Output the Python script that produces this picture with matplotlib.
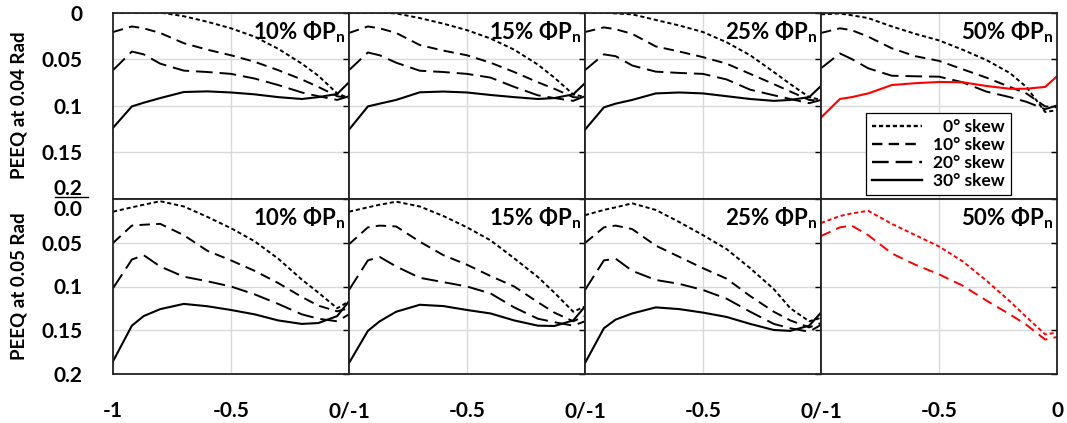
import matplotlib
matplotlib.use('Agg')
import matplotlib.pyplot as plt
from matplotlib.lines import Line2D

plt.rcParams['font.family'] = ['Lato', 'DejaVu Sans']
plt.rcParams['font.weight'] = 'bold'
plt.rcParams['lines.scale_dashes'] = False
plt.rcParams['mathtext.default'] = 'regular'

# ---------------- data ----------------
X = [-1, -0.92, -0.87, -0.8, -0.7, -0.6, -0.5, -0.4, -0.3, -0.2, -0.13, -0.05, 0]

skew_labels = ['\u20070° skew', '10° skew', '20° skew', '30° skew']
load_labels = ['10%', '15%', '25%', '50%']
row_labels = ['PEEQ at 0.04 Rad', 'PEEQ at 0.05 Rad']
x_ticks_first = ['-1', '-0.5', '0/-1']
x_ticks_mid = ['-0.5', '0/-1']
x_ticks_last = ['-0.5', '0']
y_ticks = [0, 0.05, 0.1, 0.15, 0.2]
y_tick_labels_top = ['0', '0.05', '0.1', '0.15', '0.2']
y_tick_labels_bot = ['0.0', '0.05', '0.1', '0.15', '0.2']

# PEEQ at 0.04 rad
r04_10_s0 = [0.000, 0.000, 0.000, 0.000, 0.004, 0.010, 0.017, 0.026, 0.039, 0.055, 0.068, 0.087, 0.092]
r04_10_s10 = [0.021, 0.015, 0.017, 0.022, 0.033, 0.040, 0.046, 0.053, 0.062, 0.072, 0.080, 0.090, 0.092]
r04_10_s20 = [0.062, 0.042, 0.045, 0.055, 0.0625, 0.064, 0.066, 0.071, 0.078, 0.086, 0.090, 0.094, 0.090]
r04_10_s30 = [0.124, 0.101, 0.097, 0.092, 0.0855, 0.0848, 0.086, 0.088, 0.091, 0.093, 0.091, 0.0876, 0.075]

r04_15_s0 = [0.000, 0.000, 0.000, 0.001, 0.006, 0.012, 0.019, 0.028, 0.040, 0.056, 0.070, 0.088, 0.091]
r04_15_s10 = [0.022, 0.015, 0.017, 0.022, 0.035, 0.041, 0.046, 0.054, 0.064, 0.075, 0.082, 0.091, 0.092]
r04_15_s20 = [0.062, 0.043, 0.046, 0.054, 0.0626, 0.064, 0.066, 0.070, 0.080, 0.089, 0.092, 0.095, 0.090]
r04_15_s30 = [0.126, 0.101, 0.098, 0.094, 0.0858, 0.085, 0.086, 0.0887, 0.091, 0.093, 0.092, 0.088, 0.076]

r04_25_s0 = [0.000, 0.000, 0.001, 0.002, 0.008, 0.014, 0.021, 0.032, 0.046, 0.064, 0.077, 0.091, 0.094]
r04_25_s10 = [0.021, 0.016, 0.018, 0.023, 0.0365, 0.042, 0.048, 0.055, 0.066, 0.077, 0.085, 0.094, 0.095]
r04_25_s20 = [0.062, 0.045, 0.047, 0.057, 0.0636, 0.065, 0.066, 0.072, 0.083, 0.089, 0.093, 0.0975, 0.094]
r04_25_s30 = [0.126, 0.102, 0.098, 0.094, 0.087, 0.086, 0.087, 0.090, 0.093, 0.095, 0.094, 0.091, 0.079]

r04_50_s0 = [0.002, 0.001, 0.003, 0.006, 0.015, 0.023, 0.030, 0.040, 0.051, 0.065, 0.080, 0.107, 0.105]
r04_50_s10 = [0.022, 0.017, 0.019, 0.026, 0.0385, 0.047, 0.052, 0.061, 0.070, 0.080, 0.087, 0.101, 0.102]
r04_50_s20 = [0.060, 0.044, 0.050, 0.060, 0.068, 0.0686, 0.069, 0.075, 0.085, 0.091, 0.096, 0.104, 0.100]
r04_50_s30 = [0.113, 0.093, 0.091, 0.087, 0.078, 0.076, 0.0747, 0.075, 0.079, 0.082, 0.082, 0.080, 0.0686]

# PEEQ at 0.05 rad
r05_10_s0 = [0.014, 0.009, 0.006, 0.002, 0.008, 0.020, 0.033, 0.048, 0.068, 0.092, 0.107, 0.125, 0.117]
r05_10_s10 = [0.050, 0.030, 0.029, 0.028, 0.041, 0.059, 0.070, 0.082, 0.096, 0.112, 0.122, 0.1285, 0.125]
r05_10_s20 = [0.102, 0.069, 0.064, 0.077, 0.0887, 0.094, 0.100, 0.109, 0.120, 0.132, 0.137, 0.140, 0.132]
r05_10_s30 = [0.186, 0.145, 0.134, 0.126, 0.120, 0.1227, 0.127, 0.132, 0.139, 0.143, 0.142, 0.134, 0.117]

r05_15_s0 = [0.014, 0.009, 0.006, 0.0025, 0.008, 0.019, 0.032, 0.047, 0.0676, 0.089, 0.107, 0.129, 0.123]
r05_15_s10 = [0.0515, 0.032, 0.030, 0.031, 0.0485, 0.064, 0.075, 0.088, 0.100, 0.118, 0.130, 0.140, 0.134]
r05_15_s20 = [0.104, 0.070, 0.066, 0.077, 0.090, 0.095, 0.100, 0.108, 0.124, 0.137, 0.141, 0.145, 0.140]
r05_15_s30 = [0.188, 0.151, 0.140, 0.129, 0.121, 0.1225, 0.127, 0.131, 0.139, 0.145, 0.1454, 0.139, 0.123]

r05_25_s0 = [0.018, 0.012, 0.009, 0.0044, 0.012, 0.026, 0.041, 0.057, 0.079, 0.103, 0.125, 0.140, 0.136]
r05_25_s10 = [0.050, 0.032, 0.030, 0.034, 0.053, 0.066, 0.079, 0.091, 0.111, 0.129, 0.139, 0.147, 0.142]
r05_25_s20 = [0.104, 0.070, 0.068, 0.082, 0.0925, 0.097, 0.104, 0.114, 0.129, 0.143, 0.148, 0.152, 0.144]
r05_25_s30 = [0.188, 0.148, 0.138, 0.131, 0.124, 0.126, 0.130, 0.135, 0.143, 0.150, 0.151, 0.145, 0.130]

r05_50_s0 = [0.027, 0.019, 0.016, 0.013, 0.028, 0.041, 0.054, 0.071, 0.093, 0.117, 0.135, 0.155, 0.153]
r05_50_s10 = [0.042, 0.032, 0.030, 0.041, 0.062, 0.075, 0.086, 0.099, 0.116, 0.132, 0.144, 0.161, 0.158]

panels = [
    [[r04_10_s0, r04_10_s10, r04_10_s20, r04_10_s30],
     [r04_15_s0, r04_15_s10, r04_15_s20, r04_15_s30],
     [r04_25_s0, r04_25_s10, r04_25_s20, r04_25_s30],
     [r04_50_s0, r04_50_s10, r04_50_s20, r04_50_s30]],
    [[r05_10_s0, r05_10_s10, r05_10_s20, r05_10_s30],
     [r05_15_s0, r05_15_s10, r05_15_s20, r05_15_s30],
     [r05_25_s0, r05_25_s10, r05_25_s20, r05_25_s30],
     [r05_50_s0, r05_50_s10, None, None]],
]
red_series = {(0, 3): [3], (1, 3): [0, 1]}

# ---------------- styles ----------------
DASHES = [(0, (3.0, 2.0)), (0, (7.5, 4.5)), (0, (12.0, 5.0)), 'solid']
LWS = [1.4, 1.4, 1.4, 1.5]

W, H = 1067, 423
fig = plt.figure(figsize=(W / 100, H / 100), dpi=100)

left_px = 113
panel_w = 236
rows_px = [(12.5, 198.5), (199.5, 373.5)]

for r in range(2):
    top_px, bot_px = rows_px[r]
    for c in range(4):
        x0 = (left_px + c * panel_w) / W
        ax = fig.add_axes([x0, 1 - bot_px / H, panel_w / W, (bot_px - top_px) / H])
        ax.set_xlim(-1, 0)
        ax.set_ylim(0.2, 0)
        ax.set_yticks(y_ticks)
        ax.grid(True, color='#d9d9d9', lw=1.0)
        ax.set_axisbelow(True)
        for sp in ax.spines.values():
            sp.set_color('#222222')
            sp.set_linewidth(1.3)
        reds = red_series.get((r, c), [])
        for k, ys in enumerate(panels[r][c]):
            if ys is None:
                continue
            col = '#ff0000' if k in reds else 'black'
            ax.plot(X, ys, color=col, linestyle=DASHES[k], lw=LWS[k],
                    solid_joinstyle='miter', dash_capstyle='butt')
        # x ticks
        if r == 1:
            if c == 0:
                ax.set_xticks([-1, -0.5, 0])
                ax.set_xticklabels(x_ticks_first)
            elif c < 3:
                ax.set_xticks([-0.5, 0])
                ax.set_xticklabels(x_ticks_mid)
            else:
                ax.set_xticks([-0.5, 0])
                ax.set_xticklabels(x_ticks_last)
            ax.tick_params(axis='x', length=0, pad=20, labelsize=15)
        else:
            ax.set_xticks([-0.5])
            ax.tick_params(axis='x', length=0, labelbottom=False)
        # y ticks
        ax.tick_params(axis='y', left=False, right=True, direction='in', length=4,
                       width=1, labelleft=(c == 0), labelright=False,
                       labelsize=15, pad=22)
        if c == 0:
            labs = y_tick_labels_top if r == 0 else y_tick_labels_bot
            ax.set_yticklabels(labs)
            tl = ax.get_yticklabels()
            if r == 0:
                tl[-1].set_va('bottom')
            else:
                tl[0].set_va('top')
            ax.set_ylabel(row_labels[r], fontsize=13.5, fontweight='bold', labelpad=10)
        ax.text(0.985, 0.965, load_labels[c] + ' ΦP$_{n}$', transform=ax.transAxes,
                ha='right', va='top', fontsize=16, fontweight='bold')
        if r == 0 and c == 3:
            handles = [Line2D([], [], color='black', linestyle=DASHES[k], lw=1.7)
                       for k in range(4)]
            leg = ax.legend(handles, skew_labels, loc='lower left',
                            bbox_to_anchor=(0.19, 0.02), fontsize=12.5,
                            handlelength=2.9, handletextpad=0.6, labelspacing=0.1,
                            borderpad=0.35, fancybox=False, framealpha=1,
                            edgecolor='black', borderaxespad=0)
            leg.get_frame().set_linewidth(0.9)

# small line artifact above the lower "0.0" label
fig.add_artist(Line2D([55 / W, 88 / W], [1 - 197.5 / H] * 2, transform=fig.transFigure,
                      color='black', lw=1.0))

fig.savefig('out.png', dpi=100)
